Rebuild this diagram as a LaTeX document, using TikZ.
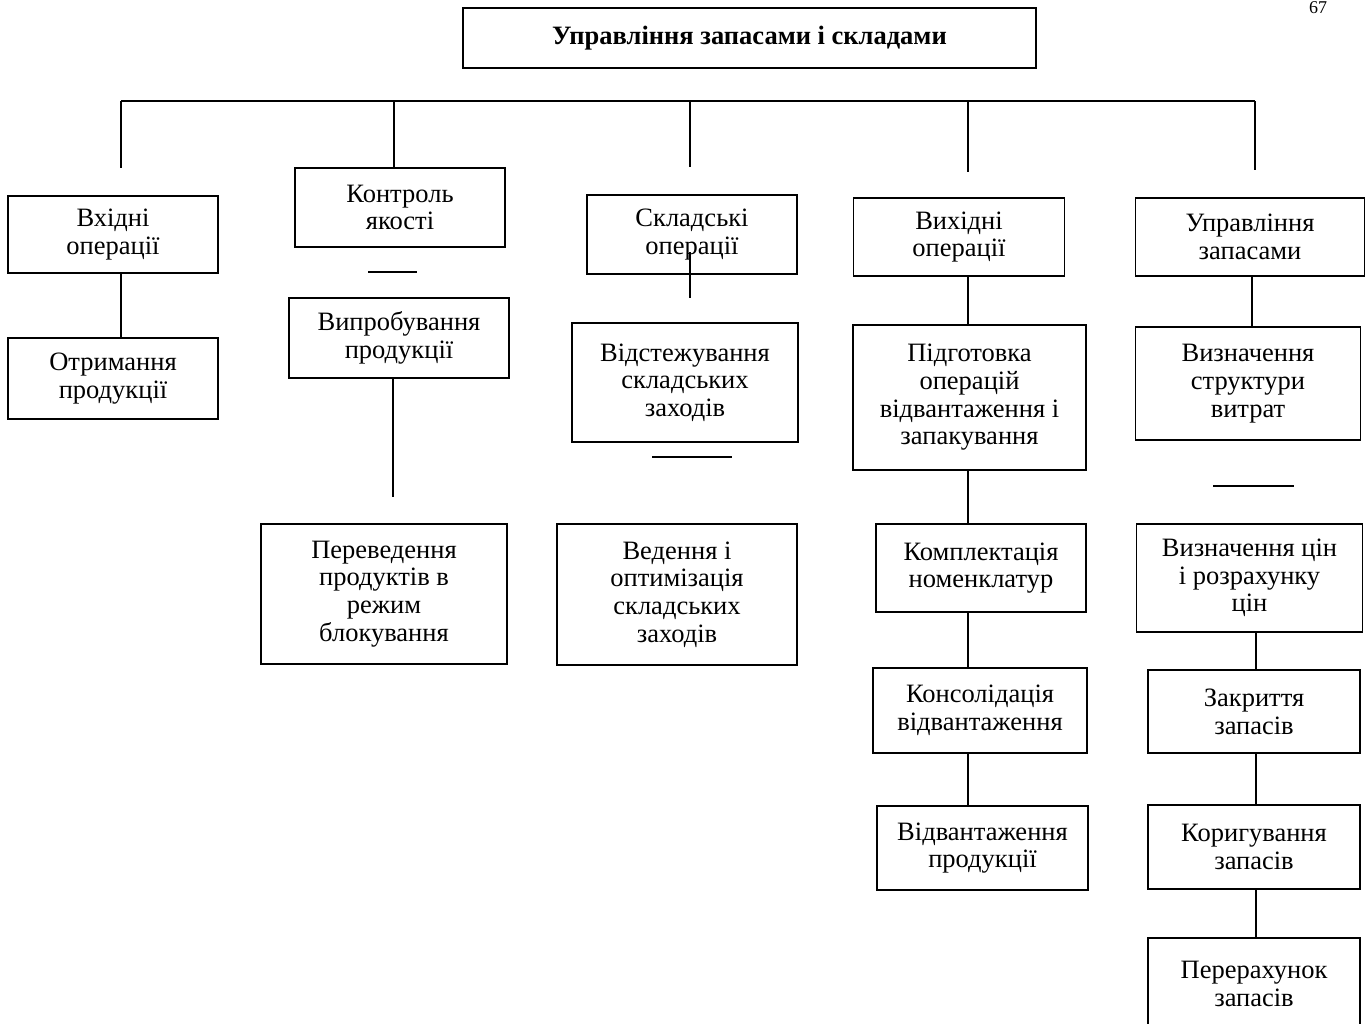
\documentclass[tikz,border=0pt]{standalone}
\usepackage{fontspec}
\setmainfont{Liberation Serif}
\usepackage{tikz}
\newcommand{\ramka}{1.5pt}
\newcommand{\tovsta}{2.6pt}
\newcommand{\tekst}{\fontsize{26.5}{27.7}\selectfont}
\tikzset{
  blok/.style={draw, line width=\ramka, align=center, inner sep=0pt, font=\tekst},
  liniya/.style={line width=\ramka}
}

\begin{document}
\begin{tikzpicture}[x=1pt, y=-1pt]
\fill[white] (0,0) rectangle (1368,1023);
\useasboundingbox (0,0) rectangle (1368,1023);
\node[anchor=north, inner sep=1pt, font=\fontsize{18}{20}\selectfont] (nomer) at (1318, 0) {67};
%title
\node[blok] (golov) at (749.5, 38) [minimum width=573pt, minimum height=60pt] {\textbf{Управління запасами і складами}};
%top line
\coordinate (t1) at (121, 101);
\coordinate (t2) at (394, 101);
\coordinate (t3) at (690, 101);
\coordinate (t4) at (968, 101);
\coordinate (t5) at (1255, 101);
\draw[line width=\tovsta] (t1) -- (t5);
%col 1
\node[blok] (vkhid) at (113, 234.5) [minimum width=210pt, minimum height=77pt] {Вхідні\\операції};
\node[blok] (otrym) at (113, 378.5) [minimum width=210pt, minimum height=81pt] {Отримання\\продукції};
%col 2
\node[blok] (kontrol) at (400, 207.5) [minimum width=210pt, minimum height=79pt] {Контроль\\якості};
\node[blok] (vyprob) at (399, 338) [minimum width=220pt, minimum height=80pt] {Випробування\\продукції};
\node[blok] (perev) at (384, 594) [minimum width=246pt, minimum height=140pt] {Переведення\\продуктів в\\режим\\блокування};
%col 3
\node[blok] (sklad) at (692, 234.5) [minimum width=210pt, minimum height=79pt] {Складські\\операції};
\node[blok] (vidst) at (685, 382.5) [minimum width=226pt, minimum height=119pt] {Відстежування\\складських\\заходів};
\node[blok] (veden) at (677, 594.5) [minimum width=240pt, minimum height=141pt] {Ведення і\\оптимізація\\складських\\заходів};
%col 4
\node[blok] (vykhid) at (959, 237) [minimum width=211pt, minimum height=78pt] {Вихідні\\операції};
\node[blok] (pidgot) at (969.5, 397.5) [minimum width=233pt, minimum height=145pt] {Підготовка\\операцій\\відвантаження і\\запакування};
\node[blok] (kompl) at (981, 568) [minimum width=210pt, minimum height=88pt] {Комплектація\\номенклатур};
\node[blok] (konsol) at (980, 710.5) [minimum width=214pt, minimum height=85pt] {Консолідація\\відвантаження};
\node[blok] (vidvant) at (982.5, 848) [minimum width=211pt, minimum height=84pt] {Відвантаження\\продукції};
%col 5
\node[blok] (upr) at (1250, 237) [minimum width=229pt, minimum height=78pt] {Управління\\запасами};
\node[blok] (strukt) at (1248, 383.5) [minimum width=225pt, minimum height=113pt] {Визначення\\структури\\витрат};
\node[blok] (tsin) at (1249.5, 578) [minimum width=226pt, minimum height=108pt] {Визначення цін\\і розрахунку\\цін};
\node[blok] (zakr) at (1254, 711.5) [minimum width=212pt, minimum height=83pt] {Закриття\\запасів};
\node[blok] (koryg) at (1254, 847) [minimum width=212pt, minimum height=84pt] {Коригування\\запасів};
\node[blok] (pererakh) at (1254, 984) [minimum width=212pt, minimum height=92pt] {Перерахунок\\запасів};
%free ends
\coordinate (e1) at (121, 168);
\coordinate (e3) at (690, 167);
\coordinate (e4) at (968, 172);
\coordinate (e5) at (1255, 170);
\coordinate (s3a) at (690, 252);
\coordinate (s3b) at (690, 298);
\coordinate (s2) at (393, 497);
%drops from top line
\draw[liniya] (t1) -- (e1);
\draw[liniya] (t2) -- (kontrol.north -| t2);
\draw[liniya] (t3) -- (e3);
\draw[liniya] (t4) -- (e4);
\draw[liniya] (t5) -- (e5);
%connectors
\draw[liniya] (vkhid.south -| t1) -- (otrym.north -| t1);
\draw[liniya] (vyprob.south -| s2) -- (s2);
\draw[liniya] (s3a) -- (s3b);
\draw[liniya] (vykhid.south -| t4) -- (pidgot.north -| t4);
\draw[liniya] (pidgot.south -| t4) -- (kompl.north -| t4);
\draw[liniya] (kompl.south -| t4) -- (konsol.north -| t4);
\draw[liniya] (konsol.south -| t4) -- (vidvant.north -| t4);
\draw[liniya] (upr.south -| 1252,0) -- (strukt.north -| 1252,0);
\draw[liniya] (tsin.south -| 1256,0) -- (zakr.north -| 1256,0);
\draw[liniya] (zakr.south -| 1256,0) -- (koryg.north -| 1256,0);
\draw[liniya] (koryg.south -| 1256,0) -- (pererakh.north -| 1256,0);
%dashes
\draw[liniya] (368, 272) -- (417, 272);
\draw[liniya] (652, 457) -- (732, 457);
\draw[liniya] (1213, 486) -- (1294, 486);
\end{tikzpicture}
\end{document}
